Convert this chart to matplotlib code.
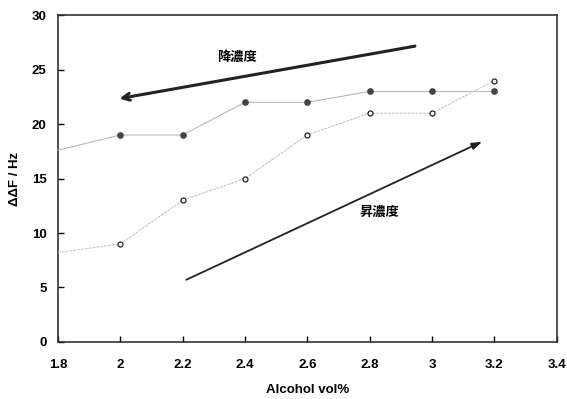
import matplotlib
matplotlib.use("Agg")
import matplotlib.pyplot as plt

x = [1.8, 2.0, 2.2, 2.4, 2.6, 2.8, 3.0, 3.2]
down = [17.6, 19, 19, 22, 22, 23, 23, 23]
up = [8.2, 9, 13, 15, 19, 21, 21, 24]
xticks = [1.8, 2, 2.2, 2.4, 2.6, 2.8, 3, 3.2, 3.4]
xticklabels = ["1.8", "2", "2.2", "2.4", "2.6", "2.8", "3", "3.2", "3.4"]
yticks = [0, 5, 10, 15, 20, 25, 30]

plt.rcParams['font.family'] = ['Liberation Sans', 'Noto Sans CJK JP', 'DejaVu Sans']

fig = plt.figure(figsize=(5.67, 3.99), dpi=100)
ax = fig.add_axes([0.102, 0.143, 0.880, 0.819])

ax.plot(x, down, color='#b0b0b0', lw=0.7, marker='o', ms=3.8, mfc='#444444',
        mec='#444444', markevery=list(range(1, len(x))), clip_on=False, zorder=3)
ax.plot(x, up, color='#c0c0c0', lw=0.7, ls=(0, (3, 1)), marker='o', ms=3.6, mfc='white',
        mec='#222222', mew=0.9, markevery=list(range(1, len(x))), clip_on=False, zorder=3)

ax.annotate('', xy=(1.989, 22.3), xytext=(2.954, 27.2),
            arrowprops=dict(arrowstyle='->,head_length=0.5,head_width=0.25', lw=2.2, color='#222222'))
ax.annotate('', xy=(3.169, 18.5), xytext=(2.204, 5.6),
            arrowprops=dict(arrowstyle='-|>,head_length=0.6,head_width=0.2', lw=1.3, color='#222222'))
ax.text(2.374, 26.2, '降濃度', ha='center', va='center', fontsize=9.5, fontweight='bold',
        family=['Noto Sans CJK JP'])
ax.text(2.832, 11.9, '昇濃度', ha='center', va='center', fontsize=9.5, fontweight='bold',
        family=['Noto Sans CJK JP'])

ax.set_xlim(1.8, 3.4)
ax.set_ylim(0, 30)
ax.set_xticks(xticks)
ax.set_xticklabels(xticklabels)
ax.set_yticks(yticks)
ax.tick_params(direction='in', length=4, width=1, labelsize=9.5, pad=12)
ax.tick_params(axis='y', pad=8)
for lab in ax.get_xticklabels() + ax.get_yticklabels():
    lab.set_fontweight('bold')
for s in ax.spines.values():
    s.set_linewidth(1.2)
    s.set_color('#333333')

ax.set_xlabel('Alcohol vol%', fontsize=9.5, fontweight='bold', labelpad=10)
ax.set_ylabel('ΔΔF / Hz', fontsize=9.5, fontweight='bold', labelpad=8)

fig.savefig('out.png', dpi=100)
